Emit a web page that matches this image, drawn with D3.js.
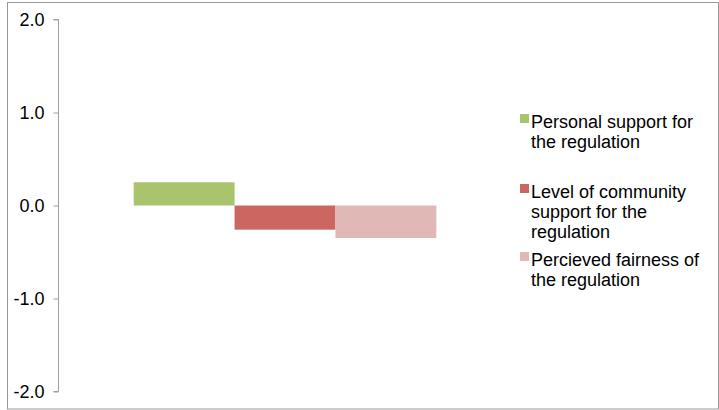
<!DOCTYPE html>
<html><head><meta charset="utf-8">
<script src="https://cdn.jsdelivr.net/npm/d3@7"></script>
<style>body{margin:0;background:#fff;}svg{display:block;font-family:"Liberation Sans",Arial,Helvetica,sans-serif;}</style>
</head><body>
<svg id="c" width="719" height="410"></svg>
<script>
const categories = [""];
const seriesNames = ["Personal support for the regulation", "Level of community support for the regulation", "Percieved fairness of the regulation"];
const seriesValues = [0.25, -0.26, -0.35];
const seriesColors = ["#A9C46C", "#CC6661", "#E0B8B6"];
const legendLines = [["Personal support for", "the regulation"], ["Level of community", "support for the", "regulation"], ["Percieved fairness of", "the regulation"]];
const tickValues = [-2, -1, 0, 1, 2];

const svg = d3.select("#c");
svg.append("rect").attr("x", 7.5).attr("y", 2.5).attr("width", 711).attr("height", 406.5)
  .attr("fill", "none").attr("stroke", "#999").attr("stroke-width", 1);

const y = d3.scaleLinear().domain([-2, 2]).range([391.5, 19.5]);
const x0 = d3.scaleBand().domain(categories).range([58, 512]).padding(0);
const x1 = d3.scaleBand().domain(seriesNames).range([0, x0.bandwidth()]).paddingInner(0).paddingOuter(0.75);

const g = svg.append("g");
categories.forEach(cat => {
  seriesNames.forEach((s, i) => {
    const v = seriesValues[i];
    g.append("rect")
      .attr("x", x0(cat) + x1(s))
      .attr("width", x1.bandwidth())
      .attr("y", y(Math.max(0, v)))
      .attr("height", Math.abs(y(v) - y(0)))
      .attr("fill", seriesColors[i]);
  });
});

const axis = svg.append("g").attr("transform", "translate(58.5,0)")
  .call(d3.axisLeft(y).tickValues(tickValues).tickSize(5).tickPadding(9).tickFormat(d3.format(".1f")));
axis.select(".domain").attr("stroke", "#a0a0a0").attr("d", `M-5,${y(2)}H0V${y(-2)}H-5`);
axis.selectAll(".tick line").attr("stroke", "#a0a0a0");
axis.selectAll(".tick text").attr("font-size", 18).attr("fill", "#000")
  .attr("font-family", "'Liberation Sans', Arial, sans-serif")
  .text(d => d3.format(".1f")(d).replace("−", "-"));

const legendBaselines = [128, 198, 266];
const leg = svg.append("g");
seriesNames.forEach((s, i) => {
  const b = legendBaselines[i];
  leg.append("rect").attr("x", 520).attr("y", b - 14).attr("width", 9).attr("height", 9).attr("fill", seriesColors[i]);
  const t = leg.append("text").attr("x", 531).attr("y", b).attr("font-size", 18).attr("fill", "#000");
  legendLines[i].forEach((ln, j) => {
    t.append("tspan").attr("x", 531).attr("y", b + j * 20).text(ln);
  });
});
</script>
</body></html>
